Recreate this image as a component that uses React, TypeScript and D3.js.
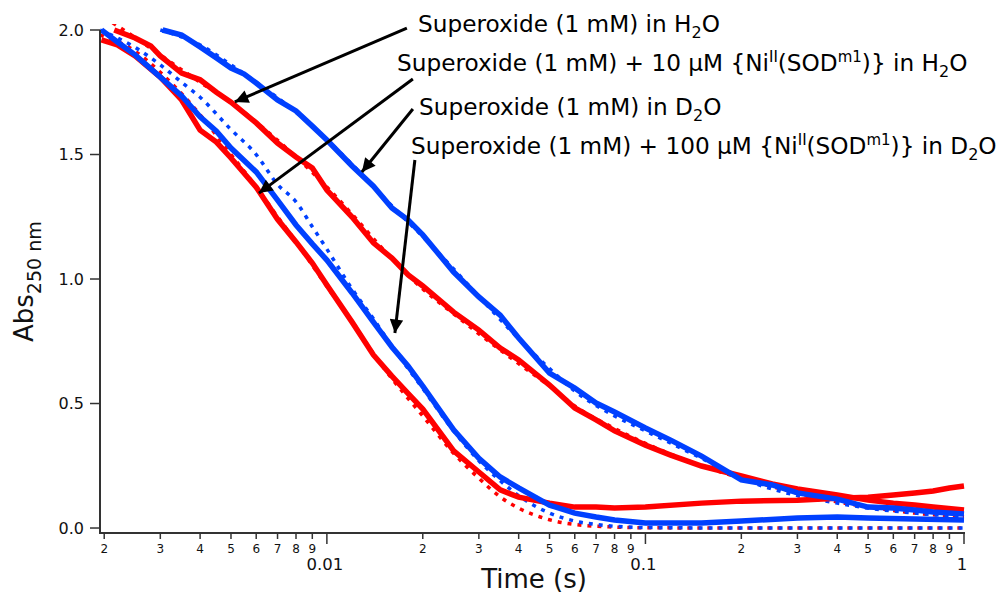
import React from "react";
import * as d3 from "d3";

// ---------- data ----------
// Superoxide (1 mM) in H2O  (red, middle)
const r1T = [0.00215,0.0025,0.0028,0.003,0.0035,0.004,0.0045,0.005,0.006,0.007,0.008,0.009,0.01,0.012,0.014,0.016,0.018,0.02,0.025,0.03,0.035,0.04,0.05,0.06,0.07,0.08,0.1,0.12,0.15,0.2,0.25,0.3,0.4,0.5,0.6,0.7,0.8,1.0];
const r1A = [2.0,1.968,1.936,1.896,1.827,1.80,1.75,1.71,1.627,1.546,1.49,1.446,1.357,1.249,1.145,1.084,1.016,0.972,0.867,0.795,0.723,0.675,0.574,0.482,0.434,0.39,0.333,0.293,0.249,0.209,0.177,0.157,0.133,0.112,0.10,0.092,0.084,0.072];
// Superoxide (1 mM) in D2O (blue, right)
const b1T = [0.00305,0.0035,0.004,0.0045,0.005,0.0055,0.006,0.007,0.008,0.009,0.01,0.012,0.014,0.016,0.018,0.02,0.025,0.03,0.035,0.04,0.05,0.06,0.07,0.08,0.1,0.12,0.15,0.2,0.25,0.3,0.4,0.5,0.6,0.7,0.8,1.0];
const b1A = [2.0,1.98,1.932,1.888,1.847,1.823,1.787,1.719,1.675,1.614,1.558,1.454,1.373,1.285,1.237,1.177,1.028,0.928,0.855,0.763,0.622,0.562,0.502,0.466,0.402,0.353,0.289,0.193,0.173,0.141,0.116,0.084,0.08,0.072,0.064,0.056];
// Superoxide + 10 uM Ni in H2O (red, left)
const r2T = [0.00196,0.0022,0.0025,0.003,0.0035,0.004,0.0045,0.005,0.006,0.007,0.008,0.009,0.01,0.012,0.014,0.016,0.018,0.02,0.025,0.03,0.035,0.04,0.05,0.06,0.07,0.08,0.1,0.15,0.2,0.3,0.4,0.5,0.6,0.7,0.8,0.9,1.0];
const r2A = [1.96,1.94,1.896,1.811,1.719,1.598,1.55,1.486,1.369,1.24,1.149,1.064,0.976,0.827,0.695,0.61,0.54,0.478,0.31,0.225,0.153,0.124,0.10,0.084,0.084,0.08,0.084,0.10,0.108,0.112,0.12,0.124,0.133,0.141,0.149,0.161,0.169];
// Superoxide + 100 uM Ni in D2O (blue, left)
const b2T = [0.00196,0.0022,0.0025,0.003,0.0035,0.004,0.0045,0.005,0.006,0.007,0.008,0.009,0.01,0.012,0.014,0.016,0.018,0.02,0.025,0.03,0.035,0.04,0.05,0.06,0.07,0.08,0.1,0.15,0.2,0.3,0.4,0.5,0.7,1.0];
const b2A = [2.0,1.952,1.90,1.811,1.735,1.651,1.594,1.526,1.43,1.317,1.217,1.141,1.076,0.944,0.827,0.727,0.65,0.57,0.394,0.28,0.205,0.161,0.092,0.06,0.044,0.032,0.02,0.02,0.028,0.04,0.044,0.04,0.036,0.032];

// fitted curves (dotted)
const r1FitT = [0.002,0.0025,0.003,0.004,0.005,0.006,0.008,0.01,0.012,0.015,0.02,0.025,0.03,0.04,0.05,0.06,0.08,0.1,0.15,0.2,0.3,0.4,0.5,0.7,1.0];
const r1FitA = [2.05,1.97,1.90,1.79,1.71,1.63,1.49,1.37,1.26,1.12,0.96,0.86,0.78,0.66,0.57,0.49,0.40,0.34,0.25,0.20,0.14,0.105,0.085,0.06,0.045];
const b1FitT = [0.003,0.004,0.005,0.006,0.008,0.01,0.012,0.015,0.02,0.025,0.03,0.04,0.05,0.06,0.08,0.1,0.15,0.2,0.3,0.4,0.5,0.7,1.0];
const b1FitA = [2.0,1.94,1.86,1.79,1.67,1.56,1.46,1.33,1.17,1.04,0.93,0.76,0.64,0.55,0.45,0.39,0.28,0.20,0.13,0.10,0.08,0.06,0.045];
const r2FitT = [0.00194,0.0025,0.003,0.004,0.005,0.006,0.007,0.008,0.01,0.012,0.014,0.016,0.018,0.02,0.025,0.03,0.035,0.04,0.05,0.06,0.08,0.1,0.2,1.0];
const r2FitA = [1.98,1.915,1.83,1.66,1.50,1.37,1.25,1.15,0.97,0.83,0.70,0.60,0.52,0.45,0.30,0.20,0.125,0.08,0.033,0.014,0.004,0.001,0,0];
const b2FitT = [0.00194,0.0025,0.003,0.0035,0.004,0.005,0.006,0.007,0.008,0.009,0.01,0.012,0.014,0.016,0.018,0.02,0.025,0.03,0.035,0.04,0.05,0.06,0.07,0.08,0.1,0.2,1.0];
const b2FitA = [2.0,1.93,1.86,1.79,1.73,1.60,1.50,1.38,1.31,1.21,1.12,0.96,0.84,0.73,0.64,0.56,0.39,0.27,0.19,0.13,0.06,0.028,0.014,0.007,0.002,0,0];

// axes
const yTicks = [0, 0.5, 1.0, 1.5, 2.0];
const yTickLabels = ["0.0", "0.5", "1.0", "1.5", "2.0"];
const xMajorTicks = [0.01, 0.1, 1];
const xMajorLabels = ["0.01", "0.1", "1"];
const xDecades = [0.001, 0.01, 0.1];
const xMinorDigits = [2, 3, 4, 5, 6, 7, 8, 9];

// annotation arrows (data coordinates)
const arrowStartT = [0.01783, 0.01862, 0.01862, 0.01889];
const arrowStartA = [2.008, 1.803, 1.683, 1.478];
const arrowTipT = [0.00514, 0.00612, 0.01288, 0.01635];
const arrowTipA = [1.711, 1.345, 1.43, 0.783];

const RED = "#ff0000";
const BLUE = "#0040ff";
const FONT = "'DejaVu Sans', Verdana, sans-serif";

const W = 998, H = 593;
const X0 = 100, X1 = 964, Y0 = 533, Y1 = 30;

export default function App() {
  const x = d3.scaleLog().domain([0.00194, 1]).range([X0, X1]);
  const y = d3.scaleLinear().domain([-0.02, 2.0]).range([Y0, Y1]);

  const mk = (ts: number[], as: number[]) => ts.map((t, i) => [t, as[i]] as [number, number]);
  const line = d3.line<[number, number]>().x(d => x(d[0])).y(d => y(d[1])).curve(d3.curveLinear);
  const fitLine = d3.line<[number, number]>().x(d => x(d[0])).y(d => y(d[1])).curve(d3.curveMonotoneX);

  const solids = [
    { d: mk(r1T, r1A), c: RED },
    { d: mk(r2T, r2A), c: RED },
    { d: mk(b1T, b1A), c: BLUE },
    { d: mk(b2T, b2A), c: BLUE },
  ];
  const fits = [
    { d: mk(r1FitT, r1FitA), c: RED },
    { d: mk(r2FitT, r2FitA), c: RED },
    { d: mk(b1FitT, b1FitA), c: BLUE },
    { d: mk(b2FitT, b2FitA), c: BLUE },
  ];

  const minor: { v: number; label: string }[] = [];
  xDecades.forEach(dec => xMinorDigits.forEach(k => {
    const v = k * dec;
    if (v >= 0.00194 && v <= 1) minor.push({ v, label: String(k) });
  }));

  const FS = 23.2;
  const sup = { fontSize: 15 };
  const sub = { fontSize: 16 };

  return (
    <svg width={W} height={H} style={{ position: "absolute", left: 0, top: 0, background: "#fff" }} fontFamily={FONT}>
      <defs>
        <clipPath id="plot"><rect x={X0} y={24} width={X1 - X0 + 6} height={Y0 - 24} /></clipPath>
        <marker id="ah" viewBox="0 0 10 10" refX="10" refY="5" markerWidth="5.5" markerHeight="4.5" markerUnits="strokeWidth" orient="auto">
          <path d="M0,0 L10,5 L0,10 z" fill="#000" />
        </marker>
      </defs>
      <rect x={0} y={0} width={W} height={H} fill="#fff" />

      <g clipPath="url(#plot)">
        {fits.map((f, i) => (
          <path key={"f" + i} d={fitLine(f.d) || ""} fill="none" stroke={f.c} strokeWidth={3.5} strokeDasharray="4 6" />
        ))}
        {solids.map((s, i) => (
          <path key={"s" + i} d={line(s.d) || ""} fill="none" stroke={s.c} strokeWidth={5.5} strokeLinejoin="miter" />
        ))}
      </g>

      {/* Y axis */}
      <line x1={X0} x2={X0} y1={Y1} y2={Y0} stroke="#333" strokeWidth={2} />
      {yTicks.map((v, i) => (
        <g key={"y" + i}>
          <line x1={X0 - 10} x2={X0} y1={y(v)} y2={y(v)} stroke="#333" strokeWidth={1.5} />
          <text x={84} y={y(v)} dy="0.36em" textAnchor="end" fontSize={16} fill="#111">{yTickLabels[i]}</text>
        </g>
      ))}

      {/* X axis */}
      <line x1={X0 - 1} x2={X1 + 1} y1={Y0} y2={Y0} stroke="#333" strokeWidth={2} />
      {minor.map((m, i) => (
        <g key={"m" + i}>
          <line x1={x(m.v)} x2={x(m.v)} y1={Y0} y2={Y0 + 6} stroke="#333" strokeWidth={1.5} />
          <text x={x(m.v)} y={553} textAnchor="middle" fontSize={12} fill="#111">{m.label}</text>
        </g>
      ))}
      {xMajorTicks.map((v, i) => (
        <g key={"M" + i}>
          <line x1={x(v)} x2={x(v)} y1={Y0} y2={Y0 + 11} stroke="#333" strokeWidth={1.5} />
          <text x={x(v) - 2} y={570} textAnchor="middle" fontSize={16.5} fill="#111">{xMajorLabels[i]}</text>
        </g>
      ))}

      <text x={534} y={588} textAnchor="middle" fontSize={26} fill="#111">Time (s)</text>
      <text transform="translate(33,342) rotate(-90)" fontSize={26} fill="#111">
        Abs<tspan fontSize={19} dy={8}>250 nm</tspan>
      </text>

      {/* annotations */}
      {arrowStartT.map((t, i) => (
        <line key={"a" + i} x1={x(t)} y1={y(arrowStartA[i])} x2={x(arrowTipT[i])} y2={y(arrowTipA[i])}
          stroke="#000" strokeWidth={3} markerEnd="url(#ah)" />
      ))}
      <text x={418} y={32} fontSize={FS} fill="#000">
        Superoxide (1 mM) in H<tspan {...sub} dy={6}>2</tspan><tspan dy={-6}>O</tspan>
      </text>
      <text x={397} y={71} fontSize={FS} fill="#000">
        Superoxide (1 mM) + 10 μM {"{"}Ni<tspan {...sup} dy={-9}>II</tspan><tspan dy={9}>(SOD</tspan><tspan {...sup} dy={-9}>m1</tspan><tspan dy={9}>){"}"} in H</tspan><tspan {...sub} dy={6}>2</tspan><tspan dy={-6}>O</tspan>
      </text>
      <text x={419} y={115} fontSize={FS} fill="#000">
        Superoxide (1 mM) in D<tspan {...sub} dy={6}>2</tspan><tspan dy={-6}>O</tspan>
      </text>
      <text x={411} y={154} fontSize={FS} fill="#000">
        Superoxide (1 mM) + 100 μM {"{"}Ni<tspan {...sup} dy={-9}>II</tspan><tspan dy={9}>(SOD</tspan><tspan {...sup} dy={-9}>m1</tspan><tspan dy={9}>){"}"} in D</tspan><tspan {...sub} dy={6}>2</tspan><tspan dy={-6}>O</tspan>
      </text>
    </svg>
  );
}
